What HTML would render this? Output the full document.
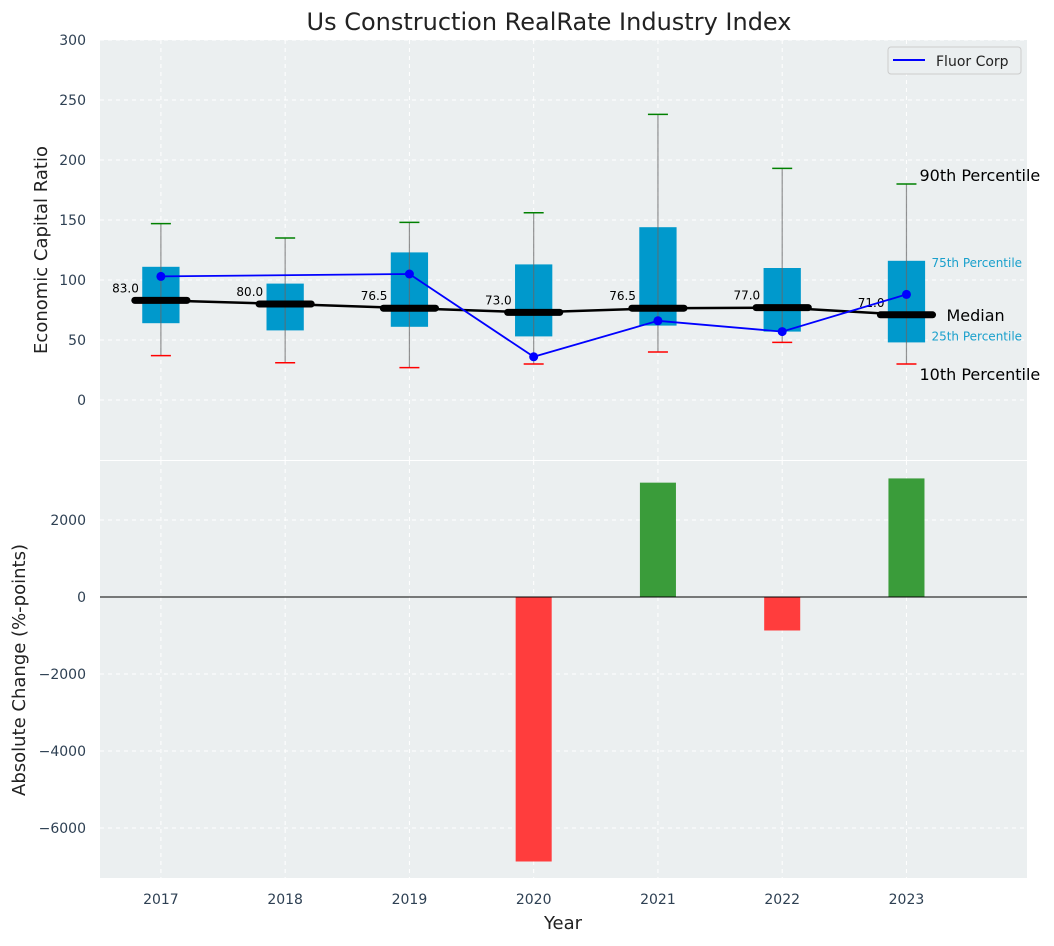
<!DOCTYPE html>
<html><head><meta charset="utf-8"><style>
body{margin:0;background:#fff;font-family:"DejaVu Sans","Liberation Sans",sans-serif;}
svg text{font-family:"DejaVu Sans","Liberation Sans",sans-serif;}
</style></head><body>
<svg id="c" width="1054" height="942" xmlns="http://www.w3.org/2000/svg"></svg>
<script>
const years=[2017,2018,2019,2020,2021,2022,2023];
const p10=[37,31,27,30,40,48,30];
const p25=[64,58,61,53,62,57,48];
const p75=[111,97,123,113,144,110,116];
const p90=[147,135,148,156,238,193,180];
const medians=[83,80,76.5,73,76.5,77,71];
const fluor=[103,null,105,36,66,57,88];
const changes=[null,null,null,-6870,2970,-870,3080];
const topTicks=[0,50,100,150,200,250,300];
const botTicks=[-6000,-4000,-2000,0,2000];

const NS="http://www.w3.org/2000/svg";
const svg=document.getElementById('c');
function el(t,a,p){const e=document.createElementNS(NS,t);for(const k in a)e.setAttribute(k,a[k]);(p||svg).appendChild(e);return e;}
const L=100,R=1027;
const x=v=>L+(v-2016.51)/(2023.97-2016.51)*(R-L);
const T0=40,T1=460,y1=v=>T0+(300-v)*(T1-T0)/350;
const B0=461,B1=878,y2=v=>597-v*0.0385;
const du=x(1)-x(0);

let t=el('text',{x:549,y:30,'text-anchor':'middle','font-size':24,fill:'#222'});t.textContent='Us Construction RealRate Industry Index';


// top panel
let g=el('g',{});
el('rect',{x:L,y:T0,width:R-L,height:T1-T0,fill:'#ebeff0'},g);
topTicks.forEach(v=>{el('line',{x1:L,x2:R,y1:y1(v),y2:y1(v),stroke:'#fff','stroke-dasharray':'4,4'},g);
 const tt=el('text',{x:L-14,y:y1(v)+5,'text-anchor':'end','font-size':14,fill:'#2e4053'},g);tt.textContent=v;
 });
years.forEach(yr=>el('line',{x1:x(yr),x2:x(yr),y1:T0,y2:T1,stroke:'#fff','stroke-dasharray':'4,4'},g));
t=el('text',{x:47,y:250,'text-anchor':'middle','font-size':18,fill:'#222',transform:'rotate(-90 47 250)'},g);t.textContent='Economic Capital Ratio';

years.forEach((yr,i)=>{
 const cx=x(yr);
 const b=el('rect',{x:cx-0.15*du,y:y1(p75[i]),width:0.3*du,height:y1(p25[i])-y1(p75[i]),fill:'#0099cc'},g);
 
 el('line',{x1:cx,x2:cx,y1:y1(p90[i]),y2:y1(p10[i]),stroke:'#666','stroke-opacity':0.7,'stroke-width':1.2},g);
 el('line',{x1:cx-10,x2:cx+10,y1:y1(p90[i]),y2:y1(p90[i]),stroke:'green','stroke-width':1.5},g);
 el('line',{x1:cx-10,x2:cx+10,y1:y1(p10[i]),y2:y1(p10[i]),stroke:'red','stroke-width':1.5},g);
});
el('polyline',{points:years.map((yr,i)=>x(yr)+','+y1(medians[i])).join(' '),fill:'none',stroke:'#000','stroke-width':2.5},g);
years.forEach((yr,i)=>{const cx=x(yr);
 const m=el('line',{x1:cx-0.21*du,x2:cx+0.21*du,y1:y1(medians[i]),y2:y1(medians[i]),stroke:'#000','stroke-width':7,'stroke-linecap':'round'},g);
 
 const lt=el('text',{x:cx-22,y:y1(medians[i])-8,'text-anchor':'end','font-size':12,fill:'#000'},g);lt.textContent=medians[i].toFixed(1);
 });
const fp=years.map((yr,i)=>fluor[i]==null?null:[x(yr),y1(fluor[i])]).filter(p=>p);
const fl=el('polyline',{points:fp.map(p=>p.join(',')).join(' '),fill:'none',stroke:'blue','stroke-width':1.8},g);

fp.forEach(p=>el('circle',{cx:p[0],cy:p[1],r:4.5,fill:'blue'},g));
// annotations
const ax=x(2023);
[['90th Percentile',y1(p90[6])-3,16,'#000',ax+13],['75th Percentile',y1(p75[6])+6,12,'#1aa0cc',ax+25],['Median',y1(medians[6])+6,16,'#000',ax+40],['25th Percentile',y1(p25[6])-2,12,'#1aa0cc',ax+25],['10th Percentile',y1(p10[6])+16,16,'#000',ax+13]].forEach(a=>{
 const at=el('text',{x:a[4],y:a[1],'font-size':a[2],fill:a[3]});at.textContent=a[0];
 });
// legend
const lg=el('g',{});
el('rect',{x:888,y:47,width:133,height:27,rx:3,fill:'#ebeff0',stroke:'#ccc'},lg);
el('line',{x1:893,x2:925,y1:60,y2:60,stroke:'blue','stroke-width':2},lg);
t=el('text',{x:936,y:66,'font-size':14,fill:'#222'},lg);t.textContent='Fluor Corp';

// bottom panel
const g2=el('g',{});
el('rect',{x:L,y:B0,width:R-L,height:B1-B0,fill:'#ebeff0'},g2);
botTicks.forEach(v=>{el('line',{x1:L,x2:R,y1:y2(v),y2:y2(v),stroke:'#fff','stroke-dasharray':'4,4'},g2);
 const tt=el('text',{x:L-14,y:y2(v)+5,'text-anchor':'end','font-size':14,fill:'#2e4053'},g2);tt.textContent=(v<0?'\u2212'+(-v):v);
 });
years.forEach(yr=>{el('line',{x1:x(yr),x2:x(yr),y1:B0,y2:B1,stroke:'#fff','stroke-dasharray':'4,4'},g2);
 const xt=el('text',{x:x(yr),y:904,'text-anchor':'middle','font-size':14,fill:'#2e4053'});xt.textContent=yr;
 });
years.forEach((yr,i)=>{if(changes[i]==null)return;const v=changes[i];
 const b=el('rect',{x:x(yr)-0.145*du,y:Math.min(y2(v),y2(0)),width:0.29*du,height:Math.abs(y2(v)-y2(0)),fill:v<0?'#ff3d3d':'#3a9c3a'},g2);
 });
el('line',{x1:L,x2:R,y1:y2(0),y2:y2(0),stroke:'#000','stroke-width':1},g2);
t=el('text',{x:25,y:670,'text-anchor':'middle','font-size':18,fill:'#222',transform:'rotate(-90 25 670)'});t.textContent='Absolute Change (%-points)';

t=el('text',{x:563,y:929,'text-anchor':'middle','font-size':18,fill:'#222'});t.textContent='Year';

</script>
</body></html>
